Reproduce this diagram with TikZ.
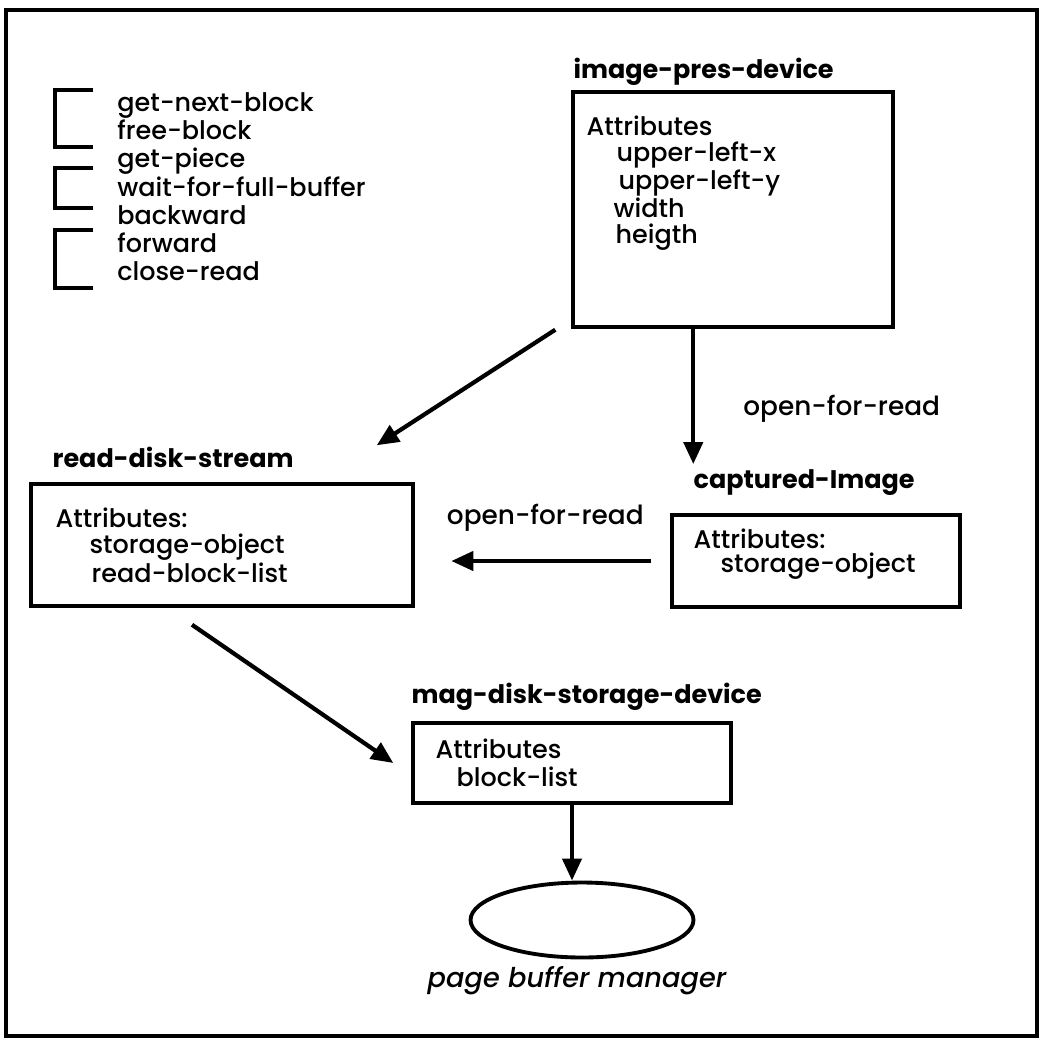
\documentclass[tikz,border=0pt]{standalone}
\usepackage{fontspec}
\setmainfont{Poppins}[UprightFont=* Medium, BoldFont=* Bold, ItalicFont=* Medium Italic]
\usepackage{tikz}
\usetikzlibrary{shapes.geometric, arrows.meta, positioning}
\tikzstyle{attrbox} = [rectangle, draw=black, fill=none, line width=2pt, inner sep=0pt]
\tikzstyle{pagebuf} = [ellipse, draw=black, fill=none, line width=2.2pt, minimum width=4.46cm, minimum height=1.5cm, inner sep=0pt]
\tikzstyle{titletext} = [inner sep=0pt, anchor=base west, font=\fontsize{14.5}{16}\selectfont\bfseries]
\tikzstyle{attrtext} = [inner sep=0pt, anchor=north west, align=left, font=\fontsize{14.5}{15}\selectfont]
\tikzstyle{labeltext} = [inner sep=0pt, font=\fontsize{15}{16}\selectfont]
\tikzstyle{bracket} = [line width=2.5pt]
\tikzstyle{arrow} = [line width=2.4pt, -{Triangle[length=0.44cm, width=0.38cm]}]

\begin{document}
\begin{tikzpicture}[x=0.02cm, y=-0.02cm]
        \useasboundingbox (0,0) rectangle (1043,1041);
        \draw [line width=2.8pt] (6,10) rectangle (1037,1036);

        % method list
        \node (methods) [attrtext, font=\fontsize{14.5}{16.1}\selectfont] at (117,92) {get-next-block\\free-block\\get-piece\\wait-for-full-buffer\\backward\\forward\\close-read};
        \draw [bracket] (93,90) -- (55,90) -- (55,147) -- (93,147);
        \draw [bracket] (93,168) -- (55,168) -- (55,208) -- (93,208);
        \draw [bracket] (93,230) -- (55,230) -- (55,288) -- (93,288);

        \node (imagepres) [attrbox, minimum width=6.4cm, minimum height=4.7cm] at (733,209.5) {};
        \node (imgtitle) [titletext] at ([xshift=0.04cm, yshift=0.24cm]imagepres.north west) {image-pres-device};
        \node (imgattr) [attrtext, font=\fontsize{14.5}{14.8}\selectfont] at ([xshift=0.3cm, yshift=-0.5cm]imagepres.north west) {Attributes\\\hspace{0.6cm}upper-left-x\\\hspace{0.64cm}upper-left-y\\\hspace{0.54cm}width\\\hspace{0.58cm}heigth};

        \node (captured) [attrbox, minimum width=5.76cm, minimum height=1.84cm] at (816,561) {};
        \node (capttitle) [titletext] at ([xshift=0.46cm, yshift=0.5cm]captured.north west) {captured-Image};
        \node (captattr) [attrtext, font=\fontsize{14.5}{13.7}\selectfont] at ([xshift=0.46cm, yshift=-0.3cm]captured.north west) {Attributes:\\\hspace{0.54cm}storage-object};

        \node (readdisk) [attrbox, minimum width=7.64cm, minimum height=2.44cm] at (222,545) {};
        \node (readtitle) [titletext] at ([xshift=0.46cm, yshift=0.3cm]readdisk.north west) {read-disk-stream};
        \node (readattr) [attrtext, font=\fontsize{14.5}{15.1}\selectfont] at ([xshift=0.52cm, yshift=-0.5cm]readdisk.north west) {Attributes:\\\hspace{0.68cm}storage-object\\\hspace{0.72cm}read-block-list};

        \node (magdisk) [attrbox, minimum width=6.36cm, minimum height=1.6cm] at (572,763) {};
        \node (magtitle) [titletext] at ([yshift=0.36cm]magdisk.north west) {mag-disk-storage-device};
        \node (magattr) [attrtext, font=\fontsize{14.5}{16}\selectfont] at ([xshift=0.48cm, yshift=-0.34cm]magdisk.north west) {Attributes\\\hspace{0.42cm}block-list};

        \node (pbm) [pagebuf] at (582,920) {};
        \node (pbmtext) [labeltext, anchor=base, font=\fontsize{15.5}{16}\selectfont\itshape] at ([xshift=-0.1cm, yshift=-0.56cm]pbm.south) {page buffer manager};


        \draw [arrow] ([xshift=-0.32cm, yshift=-0.02cm]imagepres.south west) -- ([xshift=-0.76cm, yshift=0.74cm]readdisk.north east);
        \draw [arrow] (imagepres.south -| capttitle.west) -- node[labeltext, pos=0.59, anchor=west, xshift=0.96cm] {open-for-read} ([yshift=0.1cm]capttitle.north west);
        \draw [arrow] ([xshift=-0.38cm]captured.west) -- node[labeltext, anchor=south, yshift=0.56cm, xshift=-0.12cm] {open-for-read} ([xshift=-4.38cm]captured.west);
        \draw [arrow] ([xshift=-0.6cm, yshift=-0.34cm]readdisk.south) -- ([xshift=-0.36cm]magdisk.west);
        \draw [arrow] (magdisk.south) -- (magdisk.south |- pbm.north);

    \end{tikzpicture}
\end{document}
